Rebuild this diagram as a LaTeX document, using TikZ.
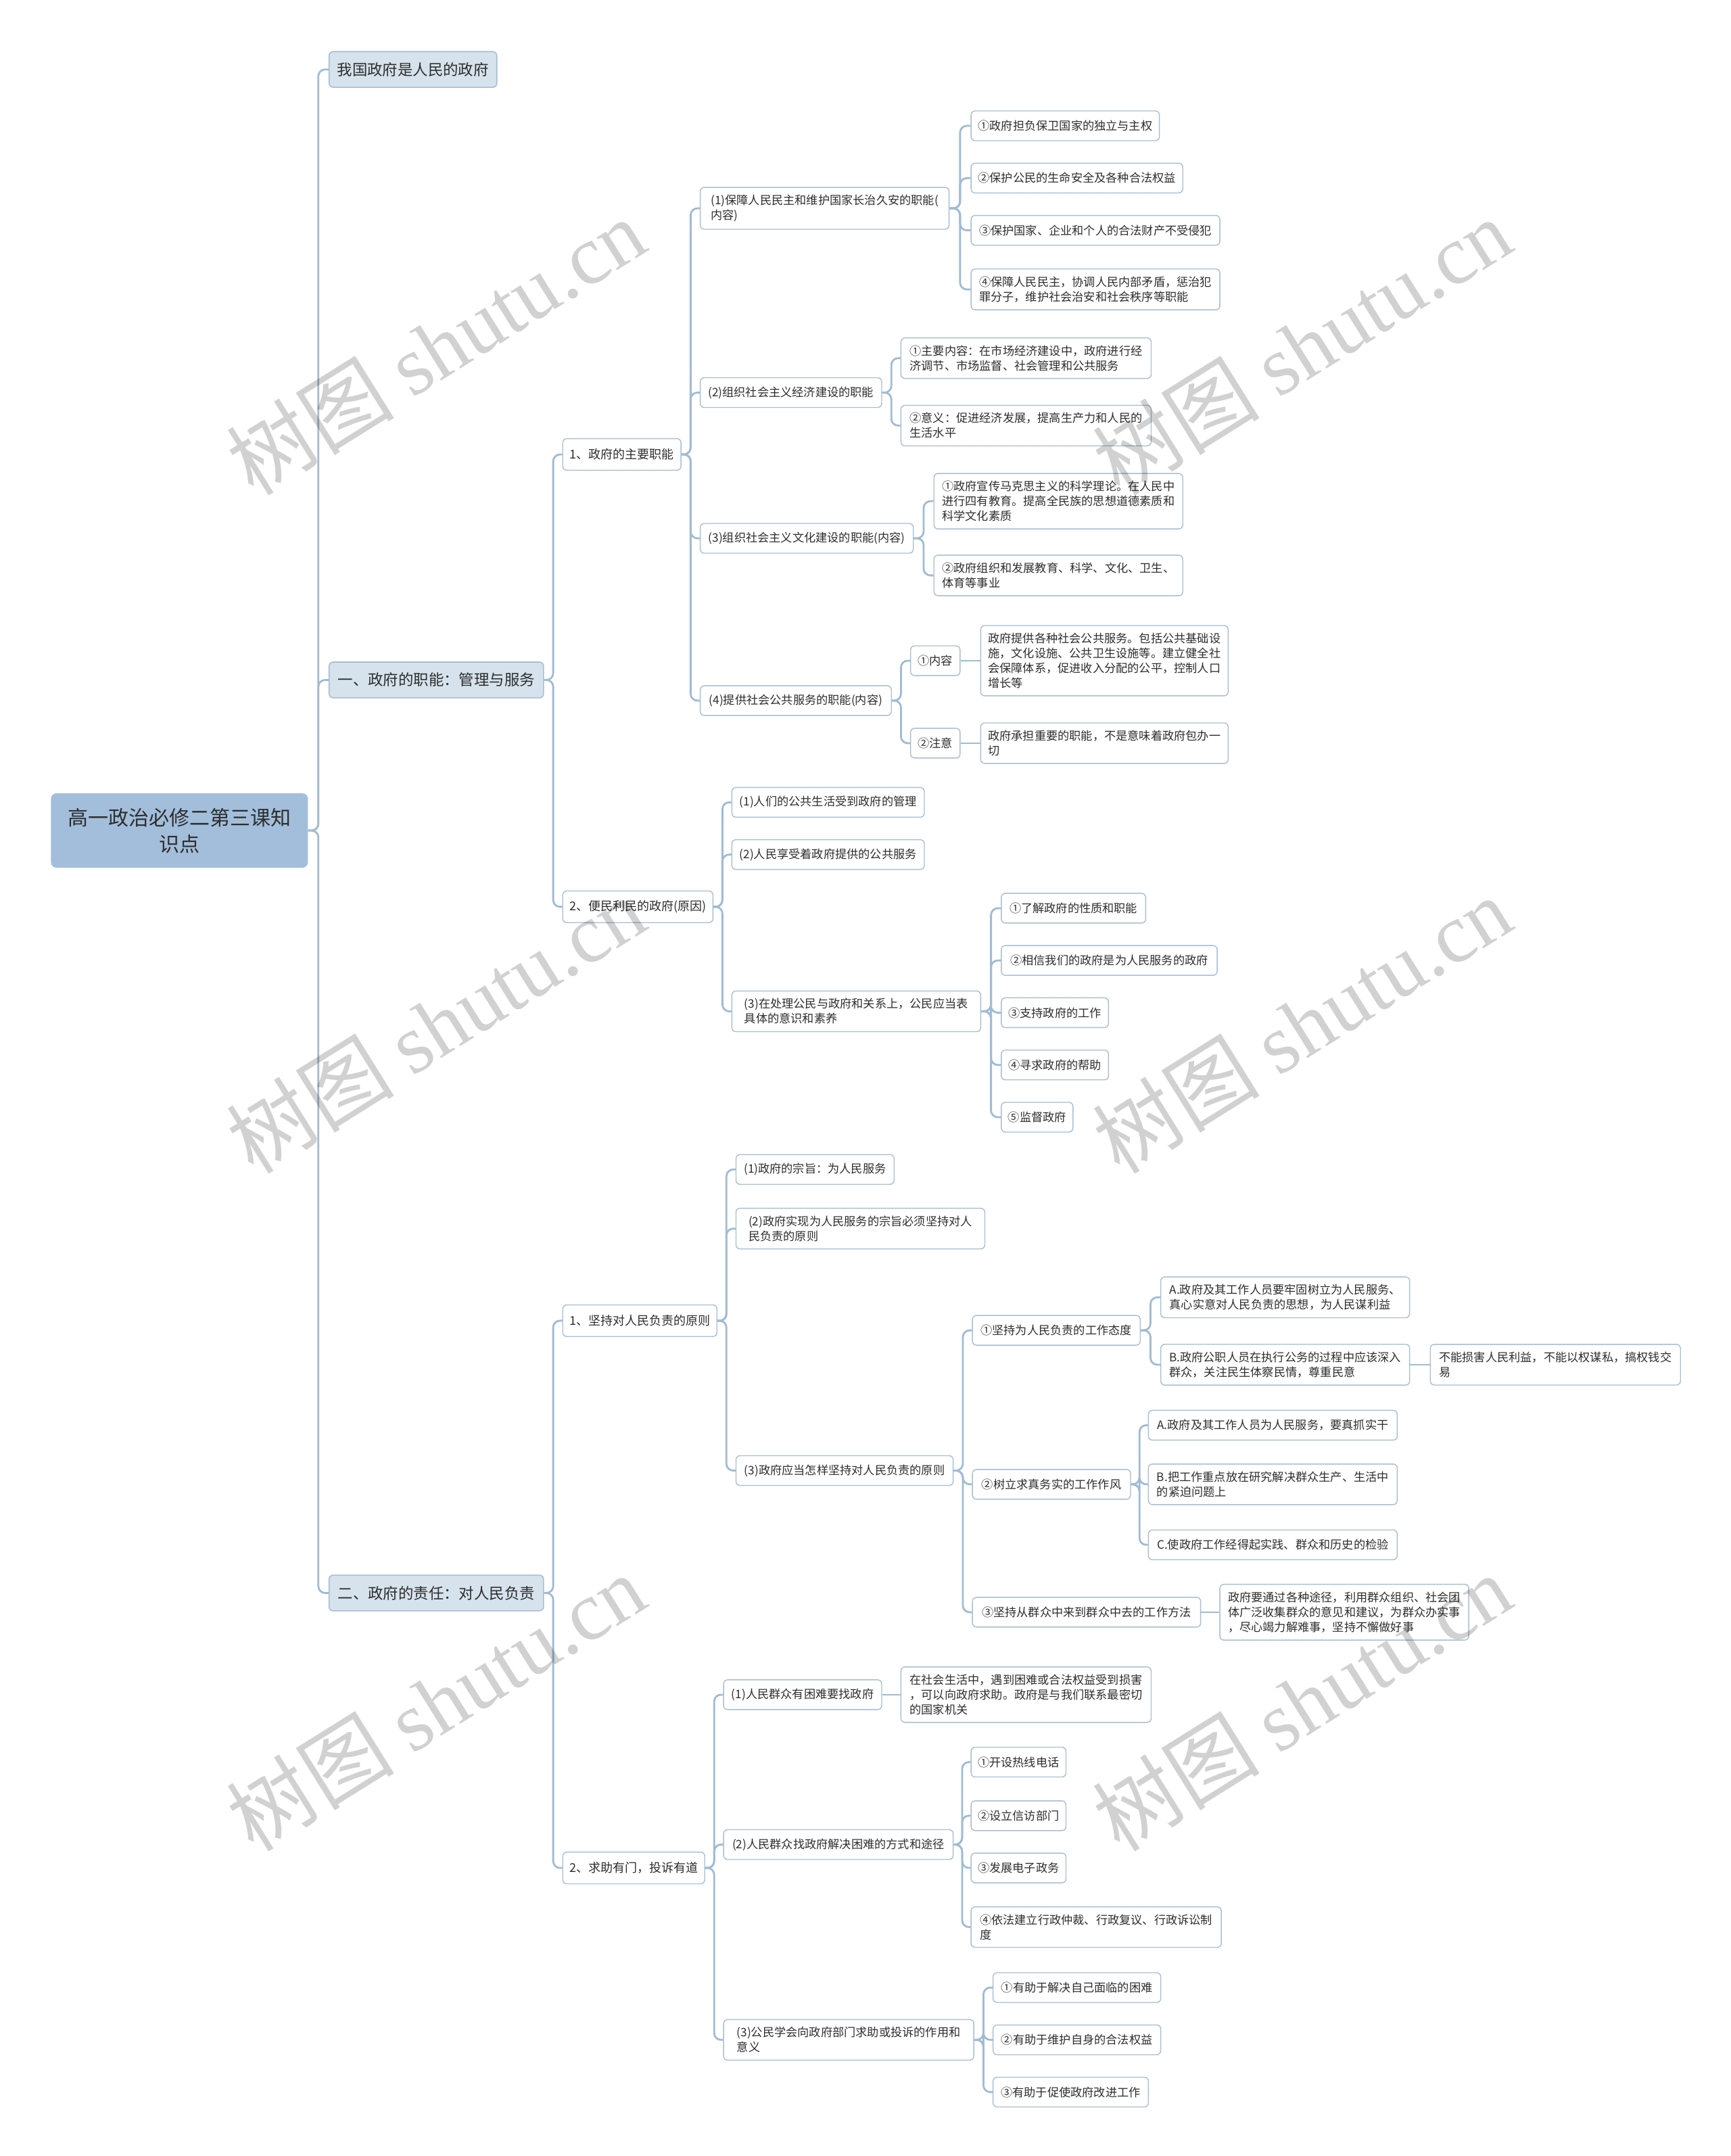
\documentclass[tikz,border=0pt]{standalone}
\usepackage{fontspec}
\setmainfont{Noto Sans CJK SC}
\newfontfamily\wmlatin{Liberation Serif}
\usetikzlibrary{calc}
\definecolor{lineblue}{RGB}{160,187,213}
\definecolor{rootfill}{RGB}{162,190,219}
\definecolor{lonefill}{RGB}{214,226,236}
\definecolor{boxline}{RGB}{168,190,212}
\definecolor{txt}{RGB}{45,45,45}
\newcommand\cn[2]{\draw[conn] (#1.east) -- ($(#1.east)!.5!(#1.east -| #2.west)$) |- (#2.west);}
\newcommand\cs[2]{\draw[conn] (#1.east) -- (#2.west);}
\begin{document}
\begin{tikzpicture}[x=1.0167pt,y=-1.0167pt,
 base/.style={anchor=west, rounded corners=3pt, align=left, inner xsep=5pt, text=txt},
 rootbox/.style={rounded corners=4pt, fill=rootfill, align=center, font=\fontsize{15}{19.5}\selectfont, inner sep=0pt, minimum width=190pt, minimum height=55pt, text=txt},
 lone/.style={base, fill=lonefill, draw=boxline, line width=0.8pt, font=\fontsize{11.2}{14}\selectfont, minimum height=26.4pt},
 ltwo/.style={base, fill=white, draw=boxline, line width=0.7pt, font=\fontsize{9}{11}\selectfont, minimum height=23.4pt, inner ysep=5pt},
 leaf/.style={base, fill=white, draw=boxline, line width=0.7pt, font=\fontsize{8.6}{11}\selectfont, minimum height=22pt, inner ysep=5.5pt},
 w/.style={minimum width=#1*1.0167pt},
 conn/.style={draw=lineblue, line width=1.4pt, rounded corners=5pt},
 wm/.style={text=black, opacity=0.18, rotate=32, font=\fontsize{62}{62}\selectfont, inner sep=0pt},
]
\useasboundingbox (0,0) rectangle (1259,1568);
\fill[white] (0,0) rectangle (1259,1568);

% root and level 1
\node[rootbox] (root) at (130.5,604) {高一政治必修二第三课知\\识点};
\node[lone, w=122] (A1) at (239,50.5) {我国政府是人民的政府};
\node[lone, w=156] (A2) at (239,494.5) {一、政府的职能：管理与服务};
\node[lone, w=156] (A3) at (239,1158.5) {二、政府的责任：对人民负责};

% level 2
\node[ltwo, w=86] (B1) at (409,330.5) {1、政府的主要职能};
\node[ltwo, w=108] (B2) at (409,659.5) {2、便民利民的政府(原因)};
\node[ltwo, w=112] (B3) at (409,960.5) {1、坚持对人民负责的原则};
\node[ltwo, w=101] (B4) at (409,1358.5) {2、求助有门，投诉有道};

% under B1
\node[leaf, w=181] (C1) at (509,151.5) {(1)保障人民民主和维护国家长治久安的职能(\\内容)};
\node[leaf, w=132] (C2) at (509,285.5) {(2)组织社会主义经济建设的职能};
\node[leaf, w=155] (C3) at (509,391.5) {(3)组织社会主义文化建设的职能(内容)};
\node[leaf, w=139] (C4) at (509,509.5) {(4)提供社会公共服务的职能(内容)};

\node[leaf, w=137] (D1) at (706,91.5) {①政府担负保卫国家的独立与主权};
\node[leaf, w=154] (D2) at (706,129.5) {②保护公民的生命安全及各种合法权益};
\node[leaf, w=181] (D3) at (706,167.5) {③保护国家、企业和个人的合法财产不受侵犯};
\node[leaf, w=181] (D4) at (706,210.5) {④保障人民民主，协调人民内部矛盾，惩治犯\\罪分子，维护社会治安和社会秩序等职能};

\node[leaf, w=182] (D5) at (655,260.5) {①主要内容：在市场经济建设中，政府进行经\\济调节、市场监督、社会管理和公共服务};
\node[leaf, w=182] (D6) at (655,309.5) {②意义：促进经济发展，提高生产力和人民的\\生活水平};

\node[leaf, w=181] (D7) at (679,364.5) {①政府宣传马克思主义的科学理论。在人民中\\进行四有教育。提高全民族的思想道德素质和\\科学文化素质};
\node[leaf, w=181] (D8) at (679,418.5) {②政府组织和发展教育、科学、文化、卫生、\\体育等事业};

\node[leaf, w=36] (D9) at (662,480.5) {①内容};
\node[leaf, w=36] (D10) at (662,540.5) {②注意};
\node[leaf, w=180] (E1) at (713,480.5) {政府提供各种社会公共服务。包括公共基础设\\施，文化设施、公共卫生设施等。建立健全社\\会保障体系，促进收入分配的公平，控制人口\\增长等};
\node[leaf, w=180] (E2) at (713,540.5) {政府承担重要的职能，不是意味着政府包办一\\切};

% under B2
\node[leaf, w=140] (C5) at (532,583.5) {(1)人们的公共生活受到政府的管理};
\node[leaf, w=140] (C6) at (532,621.5) {(2)人民享受着政府提供的公共服务};
\node[leaf, w=181] (C7) at (532,735.5) {(3)在处理公民与政府和关系上，公民应当表\\具体的意识和素养};
\node[leaf, w=105] (D11) at (728,660.5) {①了解政府的性质和职能};
\node[leaf, w=157] (D12) at (728,698.5) {②相信我们的政府是为人民服务的政府};
\node[leaf, w=78] (D13) at (728,736.5) {③支持政府的工作};
\node[leaf, w=78] (D14) at (728,774.5) {④寻求政府的帮助};
\node[leaf, w=52] (D15) at (728,812.5) {⑤监督政府};

% under B3
\node[leaf, w=115] (C8) at (535,850.5) {(1)政府的宗旨：为人民服务};
\node[leaf, w=181] (C9) at (535,893.5) {(2)政府实现为人民服务的宗旨必须坚持对人\\民负责的原则};
\node[leaf, w=158] (C10) at (535,1069.5) {(3)政府应当怎样坚持对人民负责的原则};
\node[leaf, w=122] (D16) at (707,967.5) {①坚持为人民负责的工作态度};
\node[leaf, w=115] (D17) at (707,1079.5) {②树立求真务实的工作作风};
\node[leaf, w=166] (D18) at (707,1172.5) {③坚持从群众中来到群众中去的工作方法};
\node[leaf, w=181] (E3) at (844,943.5) {A.政府及其工作人员要牢固树立为人民服务、\\真心实意对人民负责的思想，为人民谋利益};
\node[leaf, w=181] (E4) at (844,992.5) {B.政府公职人员在执行公务的过程中应该深入\\群众，关注民生体察民情，尊重民意};
\node[leaf, w=182] (F1) at (1040,992.5) {不能损害人民利益，不能以权谋私，搞权钱交\\易};
\node[leaf, w=181] (E5) at (835,1036.5) {A.政府及其工作人员为人民服务，要真抓实干};
\node[leaf, w=181] (E6) at (835,1079.5) {B.把工作重点放在研究解决群众生产、生活中\\的紧迫问题上};
\node[leaf, w=181] (E7) at (835,1123.5) {C.使政府工作经得起实践、群众和历史的检验};
\node[leaf, w=181] (E8) at (887,1172.5) {政府要通过各种途径，利用群众组织、社会团\\体广泛收集群众的意见和建议，为群众办实事\\，尽心竭力解难事，坚持不懈做好事};

% under B4
\node[leaf, w=115] (C11) at (526,1232.5) {(1)人民群众有困难要找政府};
\node[leaf, w=167] (C12) at (526,1341.5) {(2)人民群众找政府解决困难的方式和途径};
\node[leaf, w=182] (C13) at (526,1483.5) {(3)公民学会向政府部门求助或投诉的作用和\\意义};
\node[leaf, w=182] (E9) at (655,1232.5) {在社会生活中，遇到困难或合法权益受到损害\\，可以向政府求助。政府是与我们联系最密切\\的国家机关};
\node[leaf, w=69] (D19) at (706,1281.5) {①开设热线电话};
\node[leaf, w=69] (D20) at (706,1320.5) {②设立信访部门};
\node[leaf, w=69] (D21) at (706,1358.5) {③发展电子政务};
\node[leaf, w=182] (D22) at (706,1401.5) {④依法建立行政仲裁、行政复议、行政诉讼制\\度};
\node[leaf, w=122] (D23) at (722,1445.5) {①有助于解决自己面临的困难};
\node[leaf, w=122] (D24) at (722,1483.5) {②有助于维护自身的合法权益};
\node[leaf, w=113] (D25) at (722,1521.5) {③有助于促使政府改进工作};

% connectors
\foreach \c in {A1,A2,A3} {\cn{root}{\c}}
\foreach \c in {B1,B2} {\cn{A2}{\c}}
\foreach \c in {B3,B4} {\cn{A3}{\c}}
\foreach \c in {C1,C2,C3,C4} {\cn{B1}{\c}}
\foreach \c in {D1,D2,D3,D4} {\cn{C1}{\c}}
\foreach \c in {D5,D6} {\cn{C2}{\c}}
\foreach \c in {D7,D8} {\cn{C3}{\c}}
\foreach \c in {D9,D10} {\cn{C4}{\c}}
\cs{D9}{E1}
\cs{D10}{E2}
\foreach \c in {C5,C6,C7} {\cn{B2}{\c}}
\foreach \c in {D11,D12,D13,D14,D15} {\cn{C7}{\c}}
\foreach \c in {C8,C9,C10} {\cn{B3}{\c}}
\foreach \c in {D16,D17,D18} {\cn{C10}{\c}}
\foreach \c in {E3,E4} {\cn{D16}{\c}}
\cs{E4}{F1}
\foreach \c in {E5,E6,E7} {\cn{D17}{\c}}
\cs{D18}{E8}
\foreach \c in {C11,C12,C13} {\cn{B4}{\c}}
\cs{C11}{E9}
\foreach \c in {D19,D20,D21,D22} {\cn{C12}{\c}}
\foreach \c in {D23,D24,D25} {\cn{C13}{\c}}

% watermarks
\foreach \wx/\wy [count=\i] in {317/252, 317/745, 317/1238, 947/252, 947/745, 947/1238} {
  \node[wm] (wm\i) at (\wx,\wy) {树图 {\wmlatin shutu.cn}};
}
\end{tikzpicture}
\end{document}
